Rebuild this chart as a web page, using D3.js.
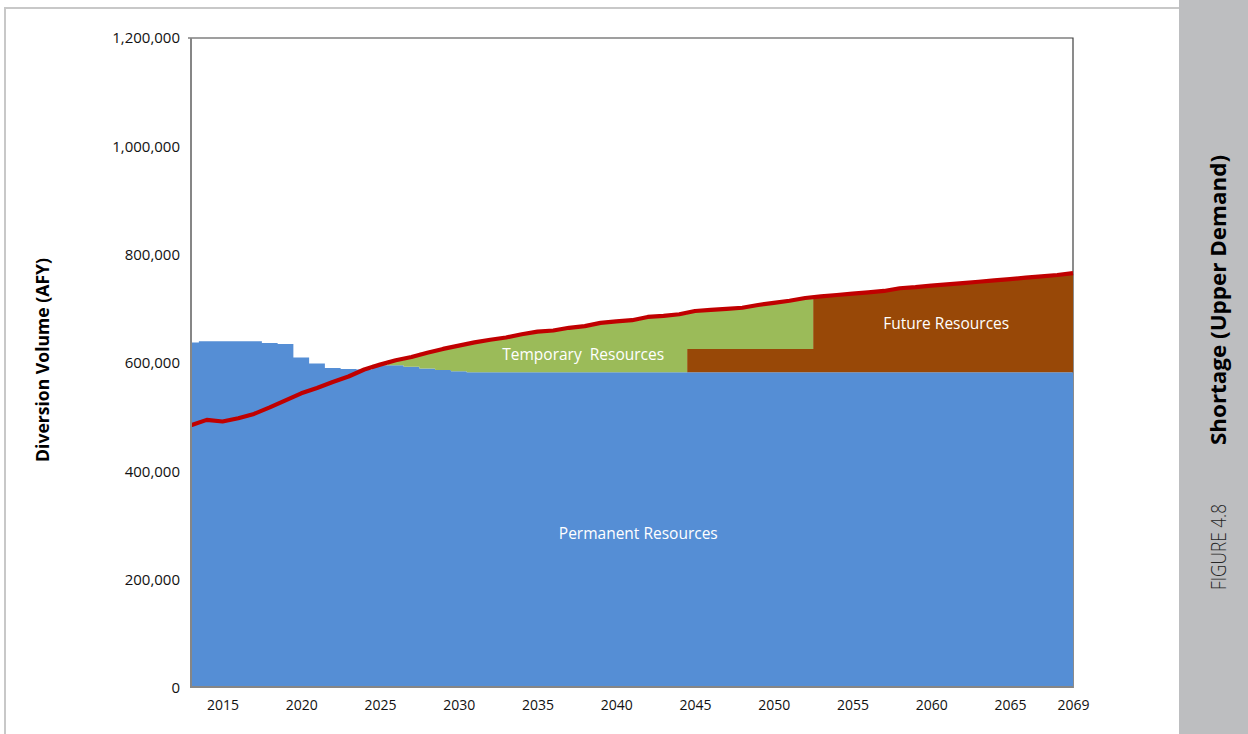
<!DOCTYPE html>
<html>
<head>
<meta charset="utf-8">
<script src="https://cdn.jsdelivr.net/npm/d3@7/dist/d3.min.js"></script>
<style>
  html, body { margin: 0; padding: 0; background: #fff; }
  svg { display: block; }
  text { font-family: "Open Sans", "Noto Sans", sans-serif; }
</style>
</head>
<body>
<svg id="chart" width="1248" height="734"></svg>
<script>
// Water supply vs. upper-demand projection, acre-feet per year
const years = d3.range(2013, 2070);

const permanent = [
  638000, 640000, 640000, 640000, 640000, 637000, 635000, 610000, 599000, 591000,
  589000, 588000, 596000, 596000, 593000, 590000, 587000, 585000, 583000, 583000,
  583000, 583000, 583000, 583000, 583000, 583000, 583000, 583000, 583000, 583000,
  583000, 583000, 583000, 583000, 583000, 583000, 583000, 583000, 583000, 583000,
  583000, 583000, 583000, 583000, 583000, 583000, 583000, 583000, 583000, 583000,
  583000, 583000, 583000, 583000, 583000, 583000, 583000
];

const temporary = [
  0, 0, 0, 0, 0, 0, 0, 0, 0, 0,
  0, 0, 1000, 9000, 18000, 29000, 39000, 47000, 55000, 60000,
  64000, 70000, 75000, 77000, 82000, 85000, 91000, 94000, 96000, 102000,
  104000, 107000, 70000, 72000, 74000, 76000, 81000, 85000, 89000, 94000,
  0, 0, 0, 0, 0, 0, 0, 0, 0, 0,
  0, 0, 0, 0, 0, 0, 0
];

const future = [
  0, 0, 0, 0, 0, 0, 0, 0, 0, 0,
  0, 0, 0, 0, 0, 0, 0, 0, 0, 0,
  0, 0, 0, 0, 0, 0, 0, 0, 0, 0,
  0, 0, 43000, 43000, 43000, 43000, 43000, 43000, 43000, 43000,
  140000, 142500, 145000, 147500, 150000, 155000, 157000, 160000, 162000, 164500,
  167000, 169500, 172000, 174500, 177000, 179500, 183000
];

const demand = [
  485000, 495000, 492000, 498000, 506000, 518000, 531000, 544000, 554000, 565000,
  575000, 588000, 597000, 605000, 611000, 619000, 626000, 632000, 638000, 643000,
  647000, 653000, 658000, 660000, 665000, 668000, 674000, 677000, 679000, 685000,
  687000, 690000, 696000, 698000, 700000, 702000, 707000, 711000, 715000, 720000,
  723000, 725500, 728000, 730500, 733000, 738000, 740000, 743000, 745000, 747500,
  750000, 752500, 755000, 757500, 760000, 762500, 766000
];

const xTickYears = [2015, 2020, 2025, 2030, 2035, 2040, 2045, 2050, 2055, 2060, 2065, 2069];
const yTicks = [0, 200000, 400000, 600000, 800000, 1000000, 1200000];

const seriesKeys = ["permanent", "future", "temporary"];
const seriesColors = { permanent: "#558ed5", future: "#984807", temporary: "#9bbb59" };

const rows = years.map((yr, i) => ({
  year: yr,
  permanent: permanent[i],
  future: future[i],
  temporary: temporary[i],
  demand: demand[i]
}));

const svg = d3.select("#chart");
const plot = { left: 191, right: 1073, top: 38, bottom: 688 };

const x = d3.scaleLinear().domain([2013, 2069]).range([plot.left, plot.right]);
const y = d3.scaleLinear().domain([0, 1200000]).range([plot.bottom, plot.top]);

// page frame and side banner
svg.append("path")
  .attr("d", "M5,734 L5,8 L1179,8")
  .attr("fill", "none").attr("stroke", "#c8c8c8").attr("stroke-width", 2);
svg.append("rect")
  .attr("x", 1179).attr("y", 0).attr("width", 69).attr("height", 734)
  .attr("fill", "#bdbec0");

svg.append("text")
  .attr("transform", "translate(1226,590) rotate(-90)")
  .attr("text-anchor", "start")
  .attr("font-size", 21).attr("font-weight", 300).attr("fill", "#262626")
  .attr("textLength", 86).attr("lengthAdjust", "spacingAndGlyphs")
  .text("FIGURE 4.8");
svg.append("text")
  .attr("transform", "translate(1226,300) rotate(-90)")
  .attr("text-anchor", "middle")
  .attr("font-size", 22).attr("font-weight", 700).attr("fill", "#000")
  .attr("textLength", 290).attr("lengthAdjust", "spacingAndGlyphs")
  .text("Shortage (Upper Demand)");

// plot border
svg.append("path")
  .attr("d", `M${plot.left - 3},${plot.top} L${plot.right},${plot.top} L${plot.right},${plot.bottom}`)
  .attr("fill", "none").attr("stroke", "#404040").attr("stroke-width", 1.2);

// stacked resource layers, one column per year (stepped at mid-years)
const stacked = d3.stack().keys(seriesKeys)(rows);
const area = d3.area()
  .curve(d3.curveStep)
  .x(d => x(d.data.year))
  .y0(d => y(d[0]))
  .y1(d => y(d[1]));

svg.append("g")
  .selectAll("path")
  .data(stacked)
  .join("path")
  .attr("fill", d => seriesColors[d.key])
  .attr("d", area);

// demand line
const line = d3.line()
  .x(d => x(d.year))
  .y(d => y(d.demand));
svg.append("path")
  .datum(rows)
  .attr("fill", "none")
  .attr("stroke", "#c00000")
  .attr("stroke-width", 4.2)
  .attr("stroke-linejoin", "round")
  .attr("d", line);

// axis lines
svg.append("line")
  .attr("x1", plot.left).attr("x2", plot.left)
  .attr("y1", plot.top).attr("y2", plot.bottom)
  .attr("stroke", "#868686").attr("stroke-width", 2);
svg.append("line")
  .attr("x1", plot.left).attr("x2", plot.right)
  .attr("y1", plot.bottom - 1).attr("y2", plot.bottom - 1)
  .attr("stroke", "#868686").attr("stroke-width", 2);

// y axis labels
const yAxis = d3.axisLeft(y)
  .tickValues(yTicks)
  .tickSize(0)
  .tickPadding(11)
  .tickFormat(d3.format(","));
const gy = svg.append("g")
  .attr("transform", `translate(${plot.left},0)`)
  .call(yAxis);
gy.select(".domain").remove();
gy.selectAll("text")
  .attr("font-family", "'Open Sans', sans-serif")
  .attr("font-size", 15).attr("fill", "#111");

// x axis labels
const xAxis = d3.axisBottom(x)
  .tickValues(xTickYears)
  .tickSize(0)
  .tickPadding(12)
  .tickFormat(d3.format("d"));
const gx = svg.append("g")
  .attr("transform", `translate(0,${plot.bottom})`)
  .call(xAxis);
gx.select(".domain").remove();
gx.selectAll("text")
  .attr("font-family", "'Open Sans', sans-serif")
  .attr("font-size", 14).attr("fill", "#111");

// y axis title
svg.append("text")
  .attr("transform", "translate(49,360) rotate(-90)")
  .attr("text-anchor", "middle")
  .attr("font-size", 17).attr("font-weight", 700).attr("fill", "#000")
  .attr("textLength", 204).attr("lengthAdjust", "spacingAndGlyphs")
  .text("Diversion Volume (AFY)");

// layer labels
const labels = [
  { text: "Permanent Resources", year: 2041.4, value: 286000 },
  { text: "Temporary\u00a0 Resources", year: 2037.9, value: 616000 },
  { text: "Future Resources", year: 2060.95, value: 673000 }
];
svg.append("g")
  .selectAll("text")
  .data(labels)
  .join("text")
  .attr("x", d => x(d.year))
  .attr("y", d => y(d.value))
  .attr("dy", "0.35em")
  .attr("text-anchor", "middle")
  .attr("font-size", 15.5).attr("fill", "#fff")
  .text(d => d.text);
</script>
</body>
</html>
